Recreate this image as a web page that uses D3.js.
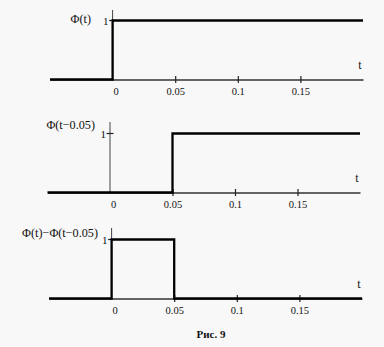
<!DOCTYPE html>
<html>
<head>
<meta charset="utf-8">
<script src="https://cdn.jsdelivr.net/npm/d3@7"></script>
<style>
  body { margin: 0; background: #f8f8f8; }
  svg { display: block; }
  text { font-family: "Liberation Serif", "Times New Roman", serif; fill: #111; }
</style>
</head>
<body>
<svg id="chart" width="384" height="347"></svg>
<script>
// --- data ---
const tDomain = [-0.05, 0.2];
const xTicks = [0, 0.05, 0.1, 0.15];
const xTickLabels = ["0", "0.05", "0.1", "0.15"];
const yTicks = [1];

// step functions as (t, value) points
const phiT = [-0.05, 0, 0, 0.2];
const phiV = [0, 0, 1, 1];
const phiShiftT = [-0.05, 0.05, 0.05, 0.2];
const phiShiftV = [0, 0, 1, 1];
const pulseT = [-0.05, 0, 0, 0.05, 0.05, 0.2];
const pulseV = [0, 0, 1, 1, 0, 0];

const panelLabels = ["\u03A6(t)", "\u03A6(t\u22120.05)", "\u03A6(t)\u2212\u03A6(t\u22120.05)"];

// --- layout of the three panels ---
const panels = [
  {t: phiT, v: phiV, label: panelLabels[0], x0: 50, x1: 363, yAxis: 79.5, yOne: 20.5, yTop: 10, labX: 91, labY: 23},
  {t: phiShiftT, v: phiShiftV, label: panelLabels[1], x0: 47.5, x1: 360, yAxis: 192.5, yOne: 133.5, yTop: 122, labX: 95, labY: 129},
  {t: pulseT, v: pulseV, label: panelLabels[2], x0: 49, x1: 362, yAxis: 298.5, yOne: 239.5, yTop: 228, labX: 98, labY: 237}
];

const svg = d3.select("#chart");

panels.forEach(p => {
  const x = d3.scaleLinear().domain(tDomain).range([p.x0, p.x1]);
  const y = d3.scaleLinear().domain([0, 1]).range([p.yAxis, p.yOne]);
  const g = svg.append("g");

  // x axis
  const xa = g.append("g")
    .attr("transform", `translate(0,${p.yAxis})`)
    .call(d3.axisBottom(x).tickValues(xTicks).tickSizeOuter(0).tickSizeInner(3)
      .tickPadding(5).tickFormat((d, i) => xTickLabels[i]));
  xa.select(".domain").attr("stroke", "#333").attr("stroke-width", 1.6);
  xa.selectAll(".tick line").attr("y1", -3.5).attr("y2", 3.5).attr("stroke", "#222").attr("stroke-width", 1.2);
  xa.selectAll(".tick text")
    .attr("font-size", 10.5)
    .attr("fill", "#111")
    .attr("dx", d => d === 0 ? 3 : 0);
  xa.selectAll(".tick").filter(d => d === 0).select("line").remove();

  // y axis
  g.append("line")
    .attr("x1", x(0)).attr("x2", x(0))
    .attr("y1", p.yTop).attr("y2", p.yAxis)
    .attr("stroke", "#444").attr("stroke-width", 1);
  yTicks.forEach(v => {
    g.append("line")
      .attr("x1", x(0) - 3.5).attr("x2", x(0) + 3.5)
      .attr("y1", y(v)).attr("y2", y(v))
      .attr("stroke", "#222").attr("stroke-width", 1.2);
    g.append("text")
      .attr("x", x(0) - 4).attr("y", y(v) + 4)
      .attr("text-anchor", "end")
      .attr("font-size", 11)
      .text(v);
  });

  // function label
  g.append("text")
    .attr("x", p.labX).attr("y", p.labY)
    .attr("text-anchor", "end")
    .attr("font-size", 12.2)
    .text(p.label);

  // axis name
  g.append("text")
    .attr("x", x(0.2) - 3).attr("y", p.yAxis - 11)
    .attr("text-anchor", "middle")
    .attr("font-size", 12)
    .text("t");

  // curve
  const pts = p.t.map((t, i) => [t, p.v[i]]);
  g.append("path")
    .datum(pts)
    .attr("fill", "none")
    .attr("stroke", "#000")
    .attr("stroke-width", 2.3)
    .attr("d", d3.line().x(d => x(d[0])).y(d => y(d[1])));
});

// caption
svg.append("text")
  .attr("x", 211).attr("y", 338)
  .attr("text-anchor", "middle")
  .attr("font-size", 11)
  .attr("font-weight", "bold")
  .text("\u0420\u0438\u0441. 9");
</script>
</body>
</html>
